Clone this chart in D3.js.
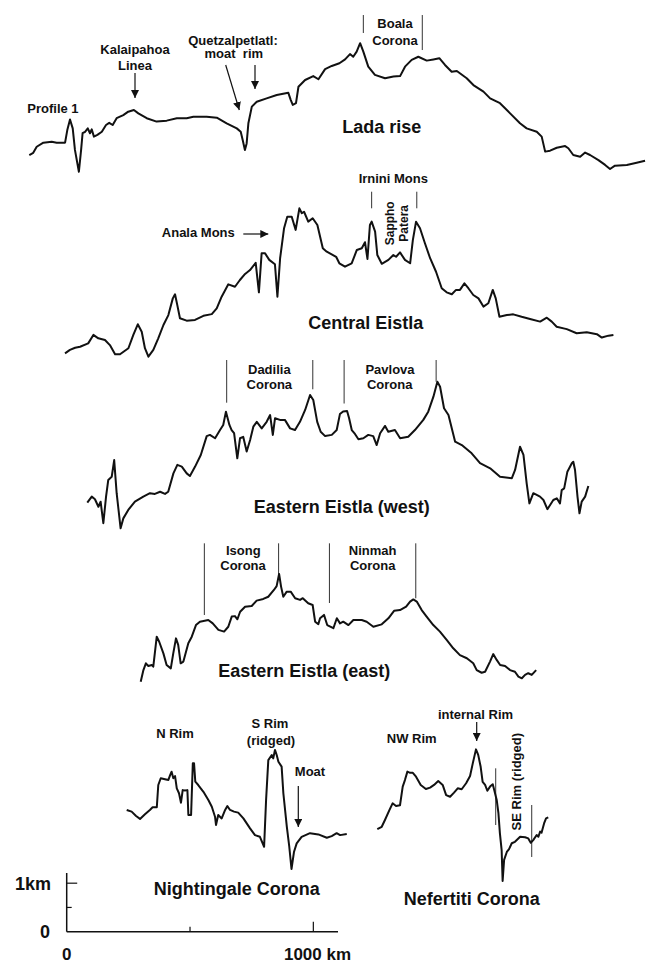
<!DOCTYPE html>
<html>
<head>
<meta charset="utf-8">
<script src="https://cdn.jsdelivr.net/npm/d3@7"></script>
<style>
  html, body { margin: 0; padding: 0; background: #fff; }
  svg { display: block; }
  text { font-family: "Liberation Sans", Arial, sans-serif; font-weight: bold; fill: #111; }
</style>
</head>
<body>
<svg id="chart" width="650" height="964"></svg>
<script>
// Topographic profiles: [distance along profile (km), relative elevation (m)]
const ladaRise = [[0,345],[16,390],[30,515],[57,600],[91,620],[111,600],[145,600],[154,860],[165,1080],[176,895],[185,450],[201,0],[210,450],[216,795],[226,825],[237,895],[246,795],[253,875],[262,725],[276,760],[294,825],[311,965],[324,1010],[338,965],[354,1105],[381,1170],[401,1240],[424,1275],[442,1205],[476,1105],[516,1035],[557,1055],[598,1105],[638,1105],[665,1135],[719,1135],[760,1115],[800,1000],[841,895],[857,825],[865,655],[874,450],[881,585],[888,1000],[902,1345],[922,1445],[962,1515],[1003,1585],[1050,1630],[1060,1480],[1068,1380],[1081,1415],[1091,1755],[1118,1895],[1151,1975],[1172,1910],[1199,2120],[1226,2185],[1257,2240],[1280,2320],[1300,2430],[1313,2375],[1327,2480],[1341,2655],[1354,2480],[1374,2170],[1401,2000],[1442,1930],[1476,1965],[1503,1975],[1523,2170],[1550,2310],[1577,2375],[1611,2295],[1638,2320],[1662,2345],[1685,2205],[1712,2065],[1733,2080],[1773,1930],[1800,1790],[1841,1655],[1868,1515],[1908,1415],[1949,1205],[1989,1000],[2016,895],[2057,825],[2077,725],[2091,415],[2111,435],[2138,495],[2172,530],[2185,485],[2205,345],[2233,310],[2253,395],[2273,345],[2307,240],[2334,140],[2354,55],[2374,125],[2422,140],[2462,185],[2496,225]];

const centralEistla = [[0,70],[20,140],[41,185],[61,205],[94,275],[115,450],[135,380],[162,345],[182,240],[203,50],[223,50],[257,175],[277,450],[295,670],[311,515],[324,175],[338,0],[358,140],[378,380],[399,655],[419,860],[437,1205],[446,1290],[455,1070],[466,795],[493,745],[527,760],[561,845],[595,880],[615,1000],[635,1240],[662,1495],[689,1445],[709,1585],[730,1710],[750,1790],[773,1940],[786,1330],[797,2135],[811,2135],[828,2000],[851,1910],[861,1240],[872,2035],[888,2655],[901,2890],[919,2890],[935,2620],[950,3065],[960,2965],[969,2995],[986,2790],[1004,2860],[1023,2720],[1045,2240],[1061,2170],[1081,2115],[1099,2065],[1112,1930],[1135,1860],[1162,1930],[1183,2205],[1203,2240],[1216,2365],[1226,2020],[1236,2720],[1243,2790],[1257,2585],[1266,2100],[1284,1920],[1311,2000],[1331,2100],[1342,2065],[1358,2155],[1378,2000],[1399,1930],[1410,2410],[1423,2790],[1439,2655],[1459,2345],[1480,2035],[1504,1755],[1527,1415],[1547,1330],[1568,1290],[1585,1380],[1601,1380],[1619,1515],[1635,1415],[1655,1275],[1676,1205],[1696,1035],[1716,1105],[1734,1380],[1746,1205],[1761,825],[1791,860],[1817,875],[1851,825],[1885,780],[1926,725],[1953,805],[1973,725],[1993,620],[2034,570],[2074,485],[2115,505],[2156,465],[2176,395],[2203,435],[2223,450]];

const easternWest = [[0,530],[18,655],[31,600],[45,445],[54,550],[65,105],[76,655],[85,1000],[99,1065],[109,1410],[119,725],[135,0],[146,205],[166,380],[193,550],[227,655],[254,725],[274,710],[295,755],[315,710],[328,755],[349,1135],[365,1310],[383,1275],[403,1135],[416,1080],[437,1275],[460,1515],[484,1905],[497,1930],[518,1860],[538,2030],[551,2135],[562,2410],[576,2135],[585,2030],[595,1965],[608,1445],[619,1860],[632,1890],[646,1585],[660,1825],[673,2100],[687,2200],[707,2065],[727,2200],[741,2340],[752,1930],[761,2275],[781,2240],[801,2240],[822,2065],[842,2030],[862,2200],[883,2445],[903,2755],[916,2650],[932,2200],[946,1995],[964,1905],[991,1930],[1011,2030],[1024,2360],[1037,2415],[1053,2425],[1061,2280],[1072,2030],[1085,1950],[1099,1840],[1119,1860],[1139,1930],[1159,1905],[1173,1720],[1187,1965],[1207,2115],[1220,1995],[1247,2030],[1268,1860],[1301,1890],[1328,2030],[1362,2240],[1382,2410],[1403,2720],[1419,3030],[1430,2925],[1446,2480],[1464,2340],[1491,1790],[1518,1720],[1558,1550],[1592,1345],[1633,1240],[1673,1065],[1721,1035],[1734,1205],[1754,1685],[1768,1515],[1781,930],[1792,515],[1808,725],[1835,655],[1849,585],[1865,395],[1889,585],[1903,620],[1916,515],[1923,790],[1933,825],[1946,1170],[1964,1345],[1970,1375],[1977,1205],[1987,655],[1995,310],[2004,550],[2018,655],[2031,875]];

const easternEast = [[0,0],[11,240],[21,380],[31,325],[45,345],[51,310],[65,930],[75,825],[92,585],[105,345],[122,275],[132,585],[143,895],[152,760],[162,380],[173,415],[193,795],[207,930],[224,1170],[240,1240],[274,1275],[292,1205],[315,1070],[338,1035],[355,1135],[369,1345],[382,1355],[392,1290],[403,1445],[423,1550],[450,1565],[470,1675],[497,1710],[517,1755],[540,1895],[551,1975],[561,2225],[569,1965],[578,1755],[592,1860],[608,1860],[626,1725],[646,1690],[657,1725],[679,1620],[697,1585],[707,1240],[720,1190],[727,1310],[743,1380],[756,1170],[781,1105],[795,1310],[808,1205],[821,1240],[842,1170],[862,1275],[896,1275],[916,1240],[943,1135],[977,1185],[1004,1310],[1027,1465],[1051,1480],[1076,1550],[1092,1655],[1105,1700],[1119,1655],[1139,1480],[1159,1345],[1186,1170],[1213,1035],[1241,860],[1267,690],[1294,550],[1322,485],[1348,380],[1362,240],[1382,185],[1396,205],[1416,415],[1429,570],[1443,450],[1457,345],[1477,325],[1497,240],[1517,205],[1531,105],[1545,70],[1558,140],[1571,175],[1585,140],[1603,240]];

const nightingale = [[0,1220],[20,1185],[38,1095],[54,1035],[74,1130],[94,1220],[105,1275],[122,1275],[128,1735],[138,1875],[155,1855],[169,1840],[176,1940],[182,2010],[189,1875],[196,1920],[203,1665],[212,1565],[220,1370],[227,1630],[236,1620],[246,1630],[250,1115],[261,1115],[268,2185],[273,2185],[278,1805],[290,1735],[311,1595],[331,1425],[345,1285],[358,1080],[362,910],[371,1115],[385,1045],[399,1220],[408,1300],[419,1220],[435,1185],[452,1165],[473,1045],[500,840],[520,700],[540,665],[557,460],[565,1425],[574,2250],[588,2355],[594,2285],[601,2460],[608,2355],[615,2215],[628,2115],[635,1565],[649,875],[659,460],[668,0],[678,350],[689,530],[709,665],[743,740],[777,715],[811,645],[831,680],[851,740],[865,700],[892,725]];

const nefertiti = [[0,1070],[18,1120],[31,1260],[49,1465],[62,1605],[76,1550],[92,1565],[103,1950],[112,2085],[122,2260],[133,2235],[144,2235],[157,2155],[176,1985],[197,1900],[214,1930],[230,1985],[247,2065],[265,1985],[279,1775],[295,1740],[311,1825],[326,1915],[342,1895],[360,2020],[376,2170],[387,2430],[400,2720],[409,2605],[419,2360],[427,2050],[437,1985],[446,1865],[457,1950],[468,2000],[474,1880],[484,1675],[491,1400],[497,985],[504,640],[508,0],[514,435],[525,600],[534,660],[545,780],[558,810],[579,915],[599,905],[612,880],[622,790],[632,845],[646,950],[653,915],[660,1020],[666,1000],[676,1190],[684,1295],[693,1315]];

// Feature markers: [distance (km), elevation from (m), elevation to (m)]
const ladaMarks = [[1354,2866,3237],[1593,2514,3237]];
const centralMarks = [[1243,3066,3409],[1426,3066,3409]];
const westMarks = [[565,2595,3477],[914,2872,3477],[1041,2578,3477],[1414,3029,3477]];
const eastMarks = [[258,1378,2859],[559,2225,2859],[765,1626,2859],[1115,1723,2859]];
const nefertitiMarks = [[480,1157,2328],[626,496,1570]];

// Scale bar ticks
const kmTicks = [500, 1000];
const mTicks = [500, 1000];

// Common horizontal / vertical scales (1000 km wide, 1 km high)
const x = d3.scaleLinear().domain([0, 1000]).range([0, 246.7]);
const y = d3.scaleLinear().domain([0, 1000]).range([0, -48.4]);

const svg = d3.select("#chart");

const panels = [
  { data: ladaRise, marks: ladaMarks, left: 29.3, base: 171.7 },
  { data: centralEistla, marks: centralMarks, left: 65, base: 356.7 },
  { data: easternWest, marks: westMarks, left: 87.3, base: 528.3 },
  { data: easternEast, marks: eastMarks, left: 140.7, base: 681.7 },
  { data: nightingale, marks: [], left: 126.7, base: 869 },
  { data: nefertiti, marks: nefertitiMarks, left: 377.3, base: 881 }
];

const line = d3.line().x(d => x(d[0])).y(d => y(d[1]));

panels.forEach(p => {
  const g = svg.append("g").attr("transform", `translate(${p.left},${p.base})`);
  g.selectAll("line.mark").data(p.marks).join("line")
    .attr("class", "mark")
    .attr("x1", d => x(d[0])).attr("x2", d => x(d[0]))
    .attr("y1", d => y(d[1])).attr("y2", d => y(d[2]))
    .attr("stroke", "#333").attr("stroke-width", 1);
  g.append("path").datum(p.data)
    .attr("d", line)
    .attr("fill", "none")
    .attr("stroke", "#111")
    .attr("stroke-width", 2)
    .attr("stroke-linejoin", "round");
});

// Arrow head marker
svg.append("defs").append("marker")
  .attr("id", "head")
  .attr("viewBox", "0 0 10 10")
  .attr("refX", 10).attr("refY", 5)
  .attr("markerWidth", 8).attr("markerHeight", 8)
  .attr("markerUnits", "userSpaceOnUse")
  .attr("orient", "auto")
  .append("path").attr("d", "M0,0 L10,5 L0,10 Z").attr("fill", "#111");

const arrows = [
  [135, 73, 135, 98],
  [225.7, 65, 239.3, 110],
  [255, 65, 255, 89],
  [243.3, 234, 268.3, 234],
  [298.3, 786, 298.3, 827],
  [476.7, 722, 476.7, 741]
];
svg.selectAll("line.arrow").data(arrows).join("line")
  .attr("class", "arrow")
  .attr("x1", d => d[0]).attr("y1", d => d[1])
  .attr("x2", d => d[2]).attr("y2", d => d[3])
  .attr("stroke", "#111").attr("stroke-width", 1.2)
  .attr("marker-end", "url(#head)");

// Labels: [text, cx, cy, size, anchor, rotate]
const labels = [
  ["Profile 1", 27.3, 108.3, 13, "start", 0],
  ["Kalaipahoa", 135, 49.3, 13, "middle", 0],
  ["Linea", 135, 65, 13, "middle", 0],
  ["Quetzalpetlatl:", 233, 40, 13, "middle", 0],
  ["moat\u00a0\u00a0rim", 233.8, 53.3, 13, "middle", 0],
  ["Boala", 395, 23.3, 13, "middle", 0],
  ["Corona", 395, 40, 13, "middle", 0],
  ["Lada rise", 381.7, 126.7, 18, "middle", 0],
  ["Irnini Mons", 393.3, 178.3, 13, "middle", 0],
  ["Sappho", 390, 223.3, 12, "middle", -90],
  ["Patera", 403.5, 223.3, 12, "middle", -90],
  ["Anala Mons", 198.3, 232.7, 13, "middle", 0],
  ["Central Eistla", 365.8, 322.3, 18, "middle", 0],
  ["Dadilia", 269.3, 369, 13, "middle", 0],
  ["Corona", 269.3, 384.3, 13, "middle", 0],
  ["Pavlova", 390, 369, 13, "middle", 0],
  ["Corona", 389.7, 384.3, 13, "middle", 0],
  ["Eastern Eistla (west)", 341.7, 506.7, 18, "middle", 0],
  ["Isong", 243.3, 550.7, 13, "middle", 0],
  ["Corona", 243, 565.7, 13, "middle", 0],
  ["Ninmah", 372.7, 550.7, 13, "middle", 0],
  ["Corona", 372.7, 565.7, 13, "middle", 0],
  ["Eastern Eistla (east)", 304.3, 671, 18, "middle", 0],
  ["N Rim", 175, 733.3, 13, "middle", 0],
  ["S Rim", 270, 723.3, 13, "middle", 0],
  ["(ridged)", 271, 740, 13, "middle", 0],
  ["Moat", 310, 771, 13, "middle", 0],
  ["Nightingale Corona", 236.7, 888.3, 18, "middle", 0],
  ["NW Rim", 411.7, 738.3, 13, "middle", 0],
  ["internal Rim", 475.5, 714, 13, "middle", 0],
  ["SE Rim (ridged)", 516, 781.7, 13, "middle", -90],
  ["Nefertiti Corona", 471.7, 898.3, 18, "middle", 0],
  ["1km", 51, 883.3, 18, "end", 0],
  ["0", 45, 931.7, 18, "middle", 0],
  ["0", 66.7, 954, 17, "middle", 0],
  ["1000 km", 317.5, 954, 17, "middle", 0]
];

svg.selectAll("text.lbl").data(labels).join("text")
  .attr("class", "lbl")
  .attr("transform", d => `translate(${d[1]},${d[2]}) rotate(${d[5]})`)
  .attr("dy", d => (d[3] * 0.36).toFixed(2))
  .attr("text-anchor", d => d[4])
  .attr("font-size", d => d[3])
  .text(d => d[0]);

// Scale bar
const sx = d3.scaleLinear().domain([0, 1100]).range([66.7, 338]);
const sy = d3.scaleLinear().domain([0, 1210]).range([931.7, 873]);
const bar = svg.append("g").attr("stroke", "#111").attr("stroke-width", 1.5);
bar.append("line").attr("x1", sx(0)).attr("x2", sx(1100)).attr("y1", sy(0)).attr("y2", sy(0));
bar.append("line").attr("x1", sx(0)).attr("x2", sx(0)).attr("y1", sy(0)).attr("y2", sy(1210));
bar.selectAll("line.kt").data(kmTicks).join("line").attr("class", "kt")
  .attr("x1", d => sx(d)).attr("x2", d => sx(d))
  .attr("y1", sy(0)).attr("y2", d => sy(0) - (d === 1000 ? 10 : 5))
  .attr("stroke-width", 1.2);
bar.selectAll("line.mt").data(mTicks).join("line").attr("class", "mt")
  .attr("y1", d => sy(d)).attr("y2", d => sy(d))
  .attr("x1", sx(0)).attr("x2", d => sx(0) + (d === 1000 ? 10.5 : 5))
  .attr("stroke-width", 1.2);
</script>
</body>
</html>
